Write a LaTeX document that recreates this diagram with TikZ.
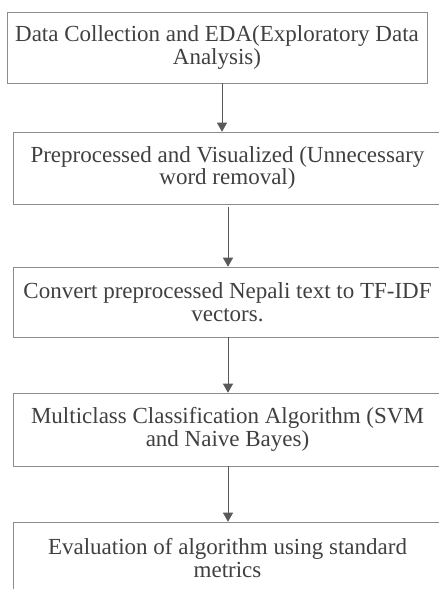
\documentclass[tikz,border=0pt]{standalone}
\usepackage{fontspec}
\setmainfont{Liberation Serif}
\usetikzlibrary{arrows.meta}
\definecolor{boxline}{gray}{0.55}
\definecolor{flowline}{gray}{0.35}
\definecolor{steptext}{gray}{0.25}
\tikzset{
    stage/.style={draw=boxline, semithick, rectangle, inner sep=0pt, text=steptext, align=center, font=\fontsize{23}{22.5}\selectfont}, % one step of the pipeline
    wide/.style={style=stage, minimum width=429pt}, % boxes running past the right edge
    flow/.style={draw=flowline, semithick, -{Triangle[width=10pt, length=9pt]}} % arrow between steps
}

\begin{document}
\begin{tikzpicture}[x=1pt, y=-1pt]
        \useasboundingbox (0,0) rectangle (439,589);
        \clip (0,0) rectangle (439,589);

        \node[stage, minimum width=420pt, minimum height=71pt] (collect) at (217,47.5) {Data Collection and EDA(Exploratory Data\\Analysis)};
        \node[wide, minimum height=72pt] (preproc) at (227.5,168) {Preprocessed and Visualized (Unnecessary\\word removal)};
        \node[wide, minimum height=70pt] (tfidf) at (227.5,302) {Convert preprocessed Nepali text to TF-IDF\\vectors.};
        \node[wide, minimum height=73pt] (classify) at (227.5,429.5) {Multiclass Classification Algorithm (SVM\\and Naive Bayes)};
        \node[wide, minimum height=72pt] (evaluate) at (227.5,558) {Evaluation of algorithm using standard\\metrics};

        \draw[flow] ([xshift=5pt]collect.south) to ([xshift=-5.5pt]preproc.north);
        \draw[flow, shorten <=3pt] ([xshift=0.5pt]preproc.south) to ([xshift=0.5pt]tfidf.north);
        \draw[flow] ([xshift=0.5pt]tfidf.south) to ([xshift=0.5pt]classify.north);
        \draw[flow] ([xshift=0.5pt]classify.south) to ([xshift=0.5pt]evaluate.north);
      \end{tikzpicture}
\end{document}
